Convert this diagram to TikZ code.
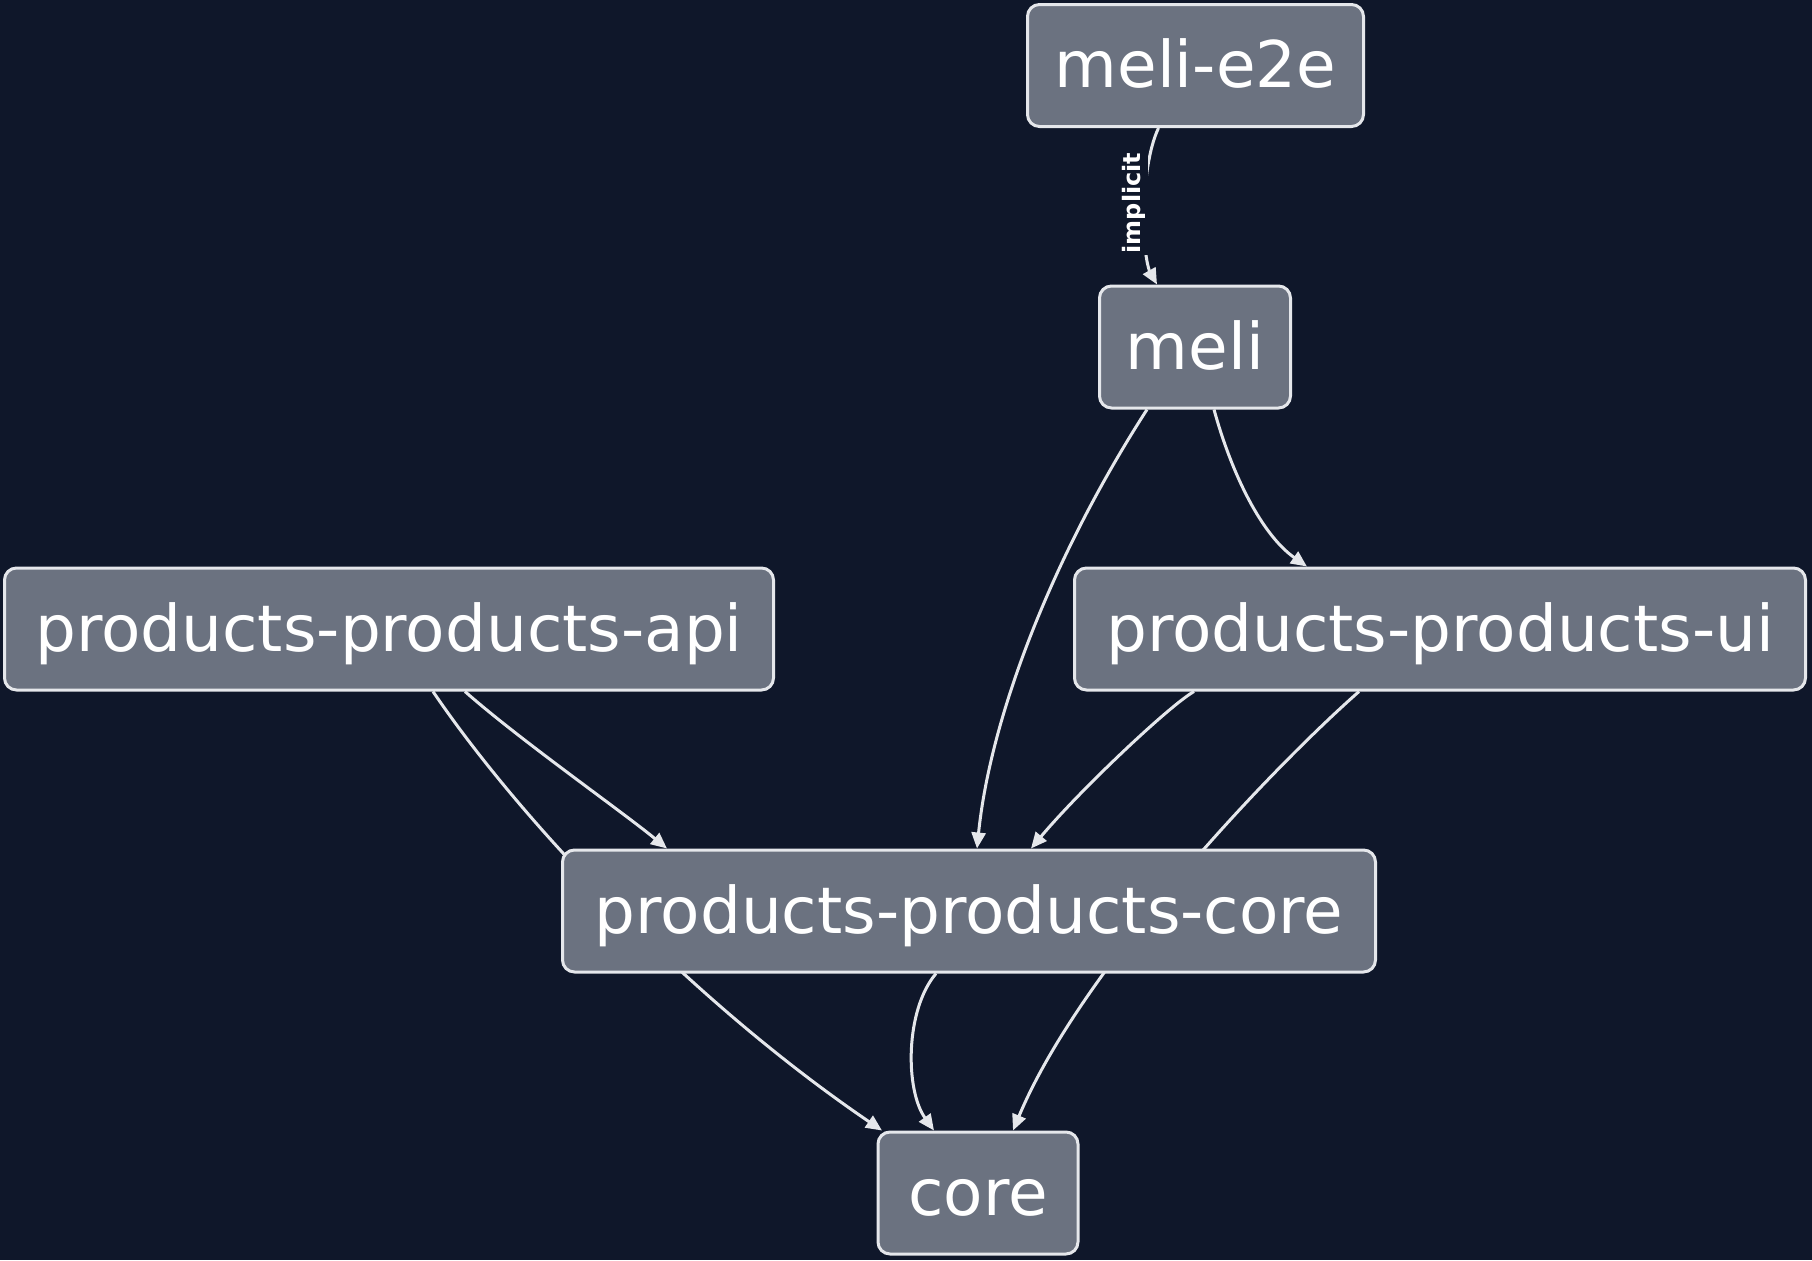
\documentclass[tikz,border=0pt]{standalone}
\usepackage{fontspec}
\setmainfont{DejaVu Sans}
\usetikzlibrary{arrows.meta,calc}
\definecolor{bgc}{HTML}{0F172A}
\definecolor{nodefill}{HTML}{6B7280}
\definecolor{linec}{HTML}{E5E7EB}
\pgfdeclarelayer{bglayer}
\pgfdeclarelayer{edgelayer}
\pgfsetlayers{bglayer,edgelayer,main}
\begin{document}
\begin{tikzpicture}[x=0.5pt,y=-0.5pt,
  pkg/.style={draw=linec, line width=1.5pt, fill=nodefill, rounded corners=6pt,
    text=white, font=\fontsize{32.2}{38}\selectfont, minimum height=61pt, inner sep=0pt,
    text height=28pt, text depth=6pt},
  dep/.style={draw=linec, line width=1.5pt, -{Triangle[length=8pt,width=7pt]}},
  edgelabel/.style={fill=bgc, inner sep=1pt, text=white,
    font=\bfseries\fontsize{12}{14}\selectfont, rotate=90}]
\begin{pgfonlayer}{bglayer}
\fill[bgc] (0,0) rectangle (1812,1260);
\end{pgfonlayer}
\useasboundingbox (0,0) rectangle (1812,1260);

\node[pkg, minimum width=168pt] (e2e) at (1195.5,65.5) {meli-e2e};
\node[pkg, minimum width=95.5pt] (meli) at (1195,347) {meli};
\node[pkg, minimum width=384.5pt] (api) at (389,629) {products-products-api};
\node[pkg, minimum width=365.5pt] (ui) at (1440,629) {products-products-ui};
\node[pkg, minimum width=406.5pt] (pcore) at (969,911) {products-products-core};
\node[pkg, minimum width=100pt] (core) at (978,1193) {core};

\begin{pgfonlayer}{edgelayer}
\draw[dep] ($(e2e.south)+(-37,0)$) .. controls (1148,150) and (1143,190) .. (1144,230)
  .. controls (1145,262) and (1150,272) .. ($(meli.north)+(-38,0)$);
\draw[dep] ($(meli.south)+(-48,0)$) .. controls (1050,560) and (990,720) .. ($(pcore.north)+(8,0)$);
\draw[dep] ($(meli.south)+(19,0)$) .. controls (1232,475) and (1262,535) .. ($(ui.north)+(-133,0)$);
\draw[dep] ($(api.south)+(76,0)$) .. controls (520,740) and (620,810) .. ($(pcore.north)+(-302,0)$);
\draw[dep] ($(api.south)+(44,0)$) .. controls (520,820) and (690,1000) .. ($(core.north)+(-96,0)$);
\draw[dep] ($(pcore.south)+(-33,0)$) .. controls (905,1010) and (905,1090) .. ($(core.north)+(-44,0)$);
\draw[dep] ($(ui.south)+(-246,0)$) .. controls (1170,705) and (1080,790) .. ($(pcore.north)+(62,0)$);
\draw[dep] ($(ui.south)+(-81,0)$) .. controls (1270,770) and (1080,970) .. ($(core.north)+(35,0)$);
\end{pgfonlayer}

\node[edgelabel] (lbl) at (1134,203) {implicit};
\end{tikzpicture}
\end{document}
